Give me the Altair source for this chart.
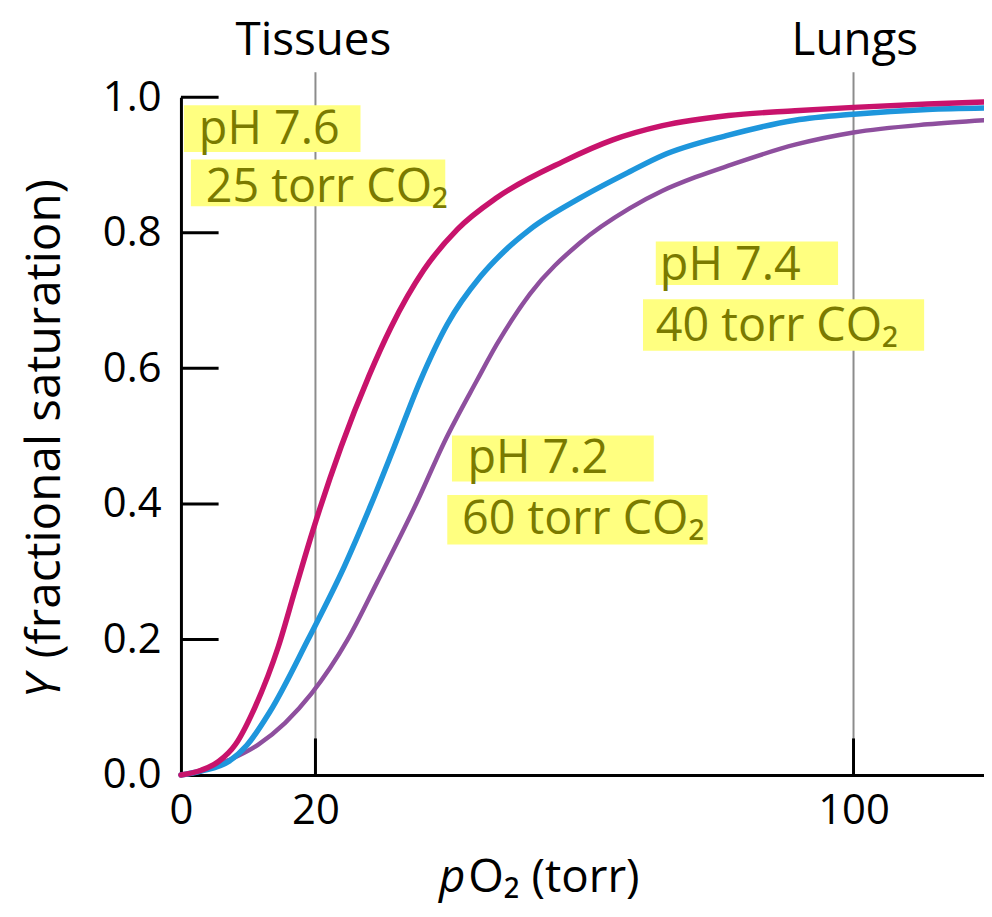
import altair as alt
import pandas as pd

# ---------------- data ----------------
po2_76 = [0, 3, 5.6, 8.1, 11.0, 14.5, 17.0, 19.5, 23.8, 28.0, 31.2, 36.1, 41.1,
          47.0, 56.8, 64.2, 71.6, 81.4, 91.3, 100, 111, 119.4]
sat_76 = [0, 0.007, 0.02, 0.045, 0.1, 0.19, 0.274, 0.357, 0.484, 0.59, 0.66, 0.745,
          0.805, 0.852, 0.905, 0.937, 0.958, 0.973, 0.980, 0.985, 0.990, 0.993]

po2_74 = [0, 3, 7.1, 9.8, 13.2, 18.9, 24.3, 28.3, 31.7, 35.6, 39.6, 44.5, 48.0,
          51.9, 59.3, 66.7, 71.6, 81.4, 91.3, 100, 111, 119.4]
sat_74 = [0, 0.006, 0.02, 0.044, 0.093, 0.2, 0.308, 0.4, 0.484, 0.582, 0.665, 0.735,
          0.772, 0.805, 0.851, 0.890, 0.914, 0.944, 0.966, 0.975, 0.982, 0.984]

po2_72 = [0, 3, 7.1, 11.5, 15.5, 19.4, 24.8, 29.2, 35.2, 39.1, 44.0, 47.0, 51.9,
          59.3, 66.7, 71.6, 76.5, 81.4, 91.3, 100, 111, 119.4]
sat_72 = [0, 0.006, 0.022, 0.045, 0.077, 0.12, 0.2, 0.285, 0.405, 0.49, 0.582, 0.636,
          0.71, 0.785, 0.836, 0.862, 0.882, 0.899, 0.930, 0.948, 0.960, 0.966]

x_ticks = [0, 20, 100]
y_ticks = [0.0, 0.2, 0.4, 0.6, 0.8, 1.0]

ref_x = [20, 100]
ref_labels = ["Tissues", "Lungs"]

note_texts = ["pH 7.6", "25 torr CO₂", "pH 7.4", "40 torr CO₂", "pH 7.2", "60 torr CO₂"]
note_x = [2.66, 3.69, 71.2, 70.6, 42.6, 41.8]
note_y = [0.931, 0.846, 0.730, 0.641, 0.445, 0.355]
box_x1 = [0.44, 1.48, 70.6, 68.7, 40.3, 39.6]
box_x2 = [26.7, 39.3, 97.7, 110.5, 70.3, 78.3]
box_y1 = [0.919, 0.839, 0.723, 0.626, 0.433, 0.340]
box_y2 = [0.988, 0.908, 0.787, 0.702, 0.501, 0.413]

MAGENTA = "#C8136C"
BLUE = "#1E96DC"
PURPLE = "#8E4F9E"
FONT = "Open Sans"

X_MAX = 119.4
xs = alt.Scale(domain=[0, X_MAX], nice=False, zero=False)
ys = alt.Scale(domain=[0, 1], nice=False, zero=False)

xaxis = alt.Axis(values=x_ticks, format="d", title=None, grid=False, ticks=False,
                 tickSize=0, labelFont=FONT, labelFontSize=42, labelColor="black",
                 labelPadding=16, domainColor="black", domainWidth=3,
                 labelFlush=False, labelOverlap=False)
yaxis = alt.Axis(values=y_ticks, format=".1f", title=None, grid=False, ticks=False,
                 tickSize=0, labelFont=FONT, labelFontSize=42, labelColor="black",
                 labelPadding=20, domainColor="black", domainWidth=3,
                 labelFlush=False, labelOverlap=False)


def X(f):
    return alt.X(f, type="quantitative", scale=xs, axis=xaxis)


def Y(f):
    return alt.Y(f, type="quantitative", scale=ys, axis=yaxis)


# reference lines (Tissues / Lungs)
ref_df = pd.DataFrame({"x": ref_x, "y0": [0, 0], "y1": [1.037, 1.037]})
ref_rules = alt.Chart(ref_df).mark_rule(color="#8c8c8c", strokeWidth=2).encode(
    x=X("x"), y=Y("y0"), y2="y1")

# inward ticks
ytick_df = pd.DataFrame({"yv": y_ticks[1:], "xa": [0] * 5, "xb": [5.6] * 5})
ytick_rules = alt.Chart(ytick_df).mark_rule(color="black", strokeWidth=3).encode(
    y=Y("yv"), x=X("xa"), x2="xb")
xtick_df = pd.DataFrame({"xv": [20, 100], "ya": [0, 0], "yb": [0.054, 0.054]})
xtick_rules = alt.Chart(xtick_df).mark_rule(color="black", strokeWidth=3).encode(
    x=X("xv"), y=Y("ya"), y2="yb")


def curve(px, py, color, w):
    df = pd.DataFrame({"po2": px, "sat": py})
    return alt.Chart(df).mark_line(interpolate="monotone", color=color,
                                   strokeWidth=w, strokeCap="round").encode(
        x=X("po2"), y=Y("sat"))


c72 = curve(po2_72, sat_72, PURPLE, 4.5)
c74 = curve(po2_74, sat_74, BLUE, 5.5)
c76 = curve(po2_76, sat_76, MAGENTA, 5.5)

notes_df = pd.DataFrame({"t": note_texts, "x": note_x, "y": note_y,
                         "bx1": box_x1, "bx2": box_x2, "by1": box_y1, "by2": box_y2})
boxes = alt.Chart(notes_df).mark_rect(color="#FFFF80").encode(
    x=X("bx1"), x2="bx2", y=Y("by1"), y2="by2")
notes = alt.Chart(notes_df).mark_text(align="left", baseline="alphabetic", font=FONT,
                                      fontSize=47, color="#7A7A00").encode(
    x=X("x"), y=Y("y"), text="t:N")

top_df = pd.DataFrame({"t": ref_labels, "x": [19.7, 100.2], "y": [1.063, 1.063]})
top_labels = alt.Chart(top_df).mark_text(align="center", baseline="alphabetic",
                                         font=FONT, fontSize=46, color="black").encode(
    x=X("x"), y=Y("y"), text="t:N")

# axis titles (partly italic)
yt_i = pd.DataFrame({"t": ["Y"], "x": [-18.0], "y": [0.113]})
yt_n = pd.DataFrame({"t": ["(fractional saturation)"], "x": [-18.0], "y": [0.172]})
ytitle_i = alt.Chart(yt_i).mark_text(
    align="left", baseline="alphabetic", angle=270, font=FONT, fontSize=48,
    fontStyle="italic", color="black").encode(x=X("x"), y=Y("y"), text="t:N")
ytitle_n = alt.Chart(yt_n).mark_text(
    align="left", baseline="alphabetic", angle=270, font=FONT, fontSize=48,
    color="black").encode(x=X("x"), y=Y("y"), text="t:N")

xt_p = pd.DataFrame({"t": ["p"], "x": [42.3], "y": [-0.172]})
xt_r = pd.DataFrame({"t": ["O₂ (torr)"], "x": [42.7], "y": [-0.172]})
xtitle_i = alt.Chart(xt_p).mark_text(align="right", baseline="alphabetic", font=FONT,
                                     fontSize=46, fontStyle="italic",
                                     color="black").encode(
    x=X("x"), y=Y("y"), text="t:N")
xtitle_n = alt.Chart(xt_r).mark_text(align="left", baseline="alphabetic", font=FONT,
                                     fontSize=46, color="black").encode(
    x=X("x"), y=Y("y"), text="t:N")

chart = alt.layer(
    ref_rules, ytick_rules, xtick_rules, c72, c74, c76, boxes, notes, top_labels,
    ytitle_i, ytitle_n, xtitle_i, xtitle_n
).properties(
    width=808, height=682,
    autosize=alt.AutoSizeParams(type="none"),
    padding={"left": 174, "top": 87, "right": 0, "bottom": 131},
    background="white",
).configure_view(stroke=None)

chart.save("out.html", embed_options={"renderer": "svg", "actions": False})
